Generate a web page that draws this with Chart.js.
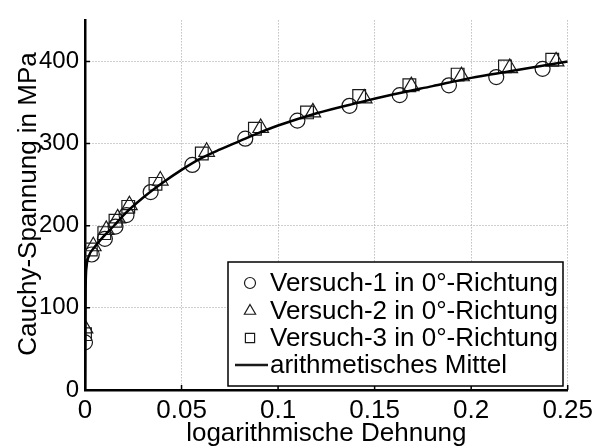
<!DOCTYPE html>
<html>
<head>
<meta charset="utf-8">
<script src="https://cdn.jsdelivr.net/npm/chart.js@4/dist/chart.umd.min.js"></script>
<style>
  html, body { margin: 0; padding: 0; background: #fff; }
  #wrap { width: 598px; height: 448px; }
</style>
</head>
<body>
<div id="wrap"><canvas id="chart" width="598" height="448"></canvas></div>
<script>
// Versuch-1 (Kreise)
const v1Strain = [0, 0.0035, 0.0103, 0.0158, 0.0215, 0.034, 0.0556, 0.083, 0.110, 0.137, 0.163, 0.1885, 0.213, 0.237];
const v1Stress = [58, 165, 184, 199, 213, 241, 274, 306, 328, 346, 359, 371, 381, 391];
// Versuch-2 (Dreiecke)
const v2Strain = [0, 0.0043, 0.011, 0.0169, 0.023, 0.039, 0.063, 0.091, 0.118, 0.1446, 0.169, 0.195, 0.220, 0.244];
const v2Stress = [75, 175, 195, 209, 225, 255, 290, 319, 338, 355, 370, 382, 392, 400];
// Versuch-3 (Quadrate)
const v3Strain = [0, 0.003, 0.010, 0.0158, 0.0224, 0.0365, 0.0605, 0.088, 0.115, 0.142, 0.168, 0.193, 0.2175, 0.242];
const v3Stress = [68, 171, 191, 206, 223, 251, 288, 318, 338, 358, 371, 384, 394, 402];
// arithmetisches Mittel
const meanStrain = [0, 0.0003, 0.0008, 0.002, 0.005, 0.01, 0.015, 0.02, 0.03, 0.04, 0.05, 0.06, 0.07, 0.08, 0.09, 0.1, 0.12, 0.14, 0.16, 0.18, 0.2, 0.22, 0.25];
const meanStress = [0, 120, 150, 163, 174, 188, 200, 213, 234, 252, 268, 282, 293, 303, 313, 322, 337, 349, 360, 370, 380, 388, 400];

const xTicks = [0, 0.05, 0.1, 0.15, 0.2, 0.25];
const yTicks = [0, 100, 200, 300, 400];
const labels = ['Versuch-1 in 0°-Richtung', 'Versuch-2 in 0°-Richtung', 'Versuch-3 in 0°-Richtung', 'arithmetisches Mittel'];

const FONT = 'Liberation Sans, Arial, sans-serif';
const pts = (xs, ys) => xs.map((x, i) => ({ x: x, y: ys[i] }));

function markerSet(label, xs, ys, style, r) {
  return {
    label: label,
    data: pts(xs, ys),
    showLine: false,
    pointStyle: style,
    pointRadius: r,
    pointHoverRadius: r,
    pointBorderWidth: 1.2,
    pointBorderColor: '#1a1a1a',
    pointBackgroundColor: 'rgba(0,0,0,0)'
  };
}

// inward ticks, axis titles and the legend box
const decor = {
  id: 'decor',
  afterDraw(chart) {
    const ctx = chart.ctx;
    const xs = chart.scales.x, ys = chart.scales.y;
    const a = chart.chartArea;
    ctx.save();
    ctx.strokeStyle = '#000';
    ctx.lineWidth = 1.5;
    ctx.beginPath();
    xTicks.forEach(v => { const p = xs.getPixelForValue(v); ctx.moveTo(p, a.bottom); ctx.lineTo(p, a.bottom - 5); });
    yTicks.forEach(v => { const p = ys.getPixelForValue(v); ctx.moveTo(a.left, p); ctx.lineTo(a.left + 5, p); });
    ctx.stroke();

    ctx.fillStyle = '#000';
    ctx.font = '26px ' + FONT;
    ctx.textAlign = 'center';
    ctx.textBaseline = 'alphabetic';
    ctx.fillText('logarithmische Dehnung', (a.left + a.right) / 2, 441);
    ctx.translate(36, 204);
    ctx.rotate(-Math.PI / 2);
    ctx.fillText('Cauchy-Spannung in MPa', 0, 0);
    ctx.restore();

    // legend
    ctx.save();
    const bx = 228, by = 262, bw = 335, bh = 124;
    ctx.fillStyle = '#fff';
    ctx.fillRect(bx, by, bw, bh);
    ctx.strokeStyle = '#000';
    ctx.lineWidth = 1.5;
    ctx.strokeRect(bx, by, bw, bh);
    const rows = [283, 311, 338, 365];
    const styles = [['circle', 5.5], ['triangle', 6.5], ['rect', 6.5]];
    ctx.font = '26px ' + FONT;
    ctx.textAlign = 'left';
    ctx.textBaseline = 'middle';
    rows.forEach((y, i) => {
      ctx.strokeStyle = '#1a1a1a';
      if (i < 3) {
        ctx.lineWidth = 1.2;
        ctx.fillStyle = 'rgba(0,0,0,0)';
        Chart.helpers.drawPoint(ctx, { pointStyle: styles[i][0], radius: styles[i][1], rotation: 0, borderWidth: 1.2 }, 250, y);
      } else {
        ctx.lineWidth = 2.5;
        ctx.beginPath();
        ctx.moveTo(235, y);
        ctx.lineTo(268, y);
        ctx.stroke();
      }
      ctx.fillStyle = '#000';
      ctx.fillText(labels[i], 270, y + 1);
    });
    ctx.restore();
  }
};

const gridStyle = { color: '#a0a0a0', lineWidth: 1, drawTicks: false };

new Chart(document.getElementById('chart'), {
  type: 'scatter',
  data: {
    datasets: [
      {
        label: labels[3],
        data: pts(meanStrain, meanStress),
        showLine: true,
        borderColor: '#000',
        borderWidth: 2.5,
        pointRadius: 0,
        cubicInterpolationMode: 'monotone',
        order: 0
      },
      markerSet(labels[0], v1Strain, v1Stress, 'circle', 7.5),
      markerSet(labels[1], v2Strain, v2Stress, 'triangle', 9),
      markerSet(labels[2], v3Strain, v3Stress, 'rect', 9)
    ]
  },
  options: {
    responsive: false,
    animation: false,
    layout: { padding: { left: 0, right: 29, top: 15, bottom: 0 } },
    plugins: { legend: { display: false }, tooltip: { enabled: false } },
    scales: {
      x: {
        type: 'linear',
        min: 0,
        max: 0.25,
        afterFit: s => { s.height = 58; },
        afterBuildTicks: s => { s.ticks = xTicks.map(v => ({ value: v })); },
        grid: gridStyle,
        border: { color: '#000', width: 2.5, dash: [1, 2] },
        ticks: { padding: 5, color: '#000', font: { family: FONT, size: 26 }, maxRotation: 0,
          callback: v => String(v) }
      },
      y: {
        type: 'linear',
        min: 0,
        max: 450,
        afterFit: s => { s.width = 85; },
        afterBuildTicks: s => { s.ticks = yTicks.map(v => ({ value: v })); },
        grid: gridStyle,
        border: { color: '#000', width: 2.5, dash: [1, 2] },
        ticks: { padding: 6, color: '#000', font: { family: FONT, size: 24 } }
      }
    }
  },
  plugins: [decor]
});
</script>
</body>
</html>
